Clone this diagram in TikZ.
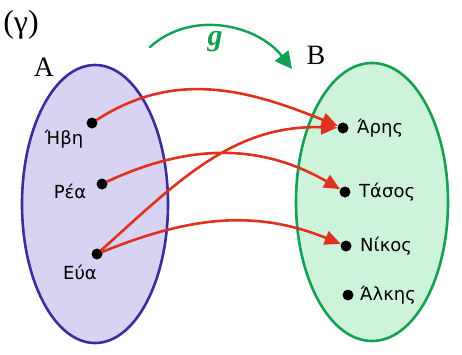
\documentclass[tikz,border=0pt]{standalone}
\usepackage{fontspec}
\setmainfont{Liberation Serif}
\setsansfont{DejaVu Sans}
\usetikzlibrary{arrows.meta,positioning}
\definecolor{setAfill}{HTML}{D8D3F2}
\definecolor{setAdraw}{HTML}{3A2E9C}
\definecolor{setBfill}{HTML}{CDF3DB}
\definecolor{setBdraw}{HTML}{12A052}
\definecolor{maparrow}{HTML}{E0301E}

\begin{document}
\begin{tikzpicture}[
    x=1pt, y=-1pt,
    line cap=round,
    dot/.style={circle, fill=black, inner sep=0pt, minimum size=11pt},
    lbl/.style={font=\sffamily\fontsize{18}{22}\selectfont},
    setname/.style={font=\fontsize{28}{32}\selectfont},
    mapto/.style={maparrow, line width=2.6pt, -{Triangle[length=16pt,width=14pt]}}
]
  \useasboundingbox (0,0) rectangle (462,354);

  % the two sets
  \draw[setAdraw, fill=setAfill, line width=2.6pt] (95,204) ellipse [x radius=73, y radius=139];
  \draw[setBdraw, fill=setBfill, line width=2.6pt] (372,202) ellipse [x radius=76, y radius=139];

  % titles
  \node[setname, font=\fontsize{32}{36}\selectfont] (title) at (21,25) {(γ)};
  \node[setname] (nameA) at (44,67) {A};
  \node[setname] (nameB) at (316,55) {B};

  % elements of A
  \node[dot] (hvi) at (92,123) {};
  \node[dot] (rea) at (102,184) {};
  \node[dot] (eva) at (97,254) {};
  \node[lbl] (hvilbl) at (64,139) {Ήβη};
  \node[lbl] (realbl) at (70,191) {Ρέα};
  \node[lbl] (evalbl) at (80,272) {Εύα};

  % elements of B
  \node[dot] (aris) at (343,128) {};
  \node[dot] (tasos) at (345,192) {};
  \node[dot] (nikos) at (346,246) {};
  \node[dot] (alkis) at (348,295) {};
  \node[lbl, right=5pt of aris] (arislbl) {Άρης};
  \node[lbl, right=5pt of tasos] (tasoslbl) {Τάσος};
  \node[lbl, right=5pt of nikos] (nikoslbl) {Νίκος};
  \node[lbl, right=3pt of alkis] (alkislbl) {Άλκης};

  % the map g
  \coordinate (gstart) at (150,47);
  \coordinate (gend) at (292,69);
  \draw[setBdraw, line width=2.4pt, -{Triangle[length=17pt,width=17pt]}]
    (gstart) to[out=42,in=128] (gend);
  \node[setBdraw, font=\bfseries\itshape\fontsize{30}{34}\selectfont] (gname) at (215,42) {g};

  % arrows
  \draw[mapto] (hvi) to[out=33,in=158] (aris);
  \draw[mapto] (rea) to[out=25,in=150] (tasos);
  \draw[mapto] (eva) to[out=42,in=178] (aris);
  \draw[mapto] (eva) to[out=22,in=158] (nikos);
\end{tikzpicture}
\end{document}
